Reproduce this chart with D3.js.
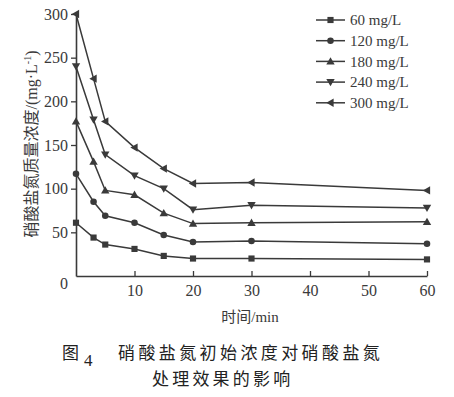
<!DOCTYPE html>
<html>
<head>
<meta charset="utf-8">
<script src="https://cdn.jsdelivr.net/npm/d3@7"></script>
<style>
  body { margin: 0; background: #fff; }
  svg { display: block; }
</style>
</head>
<body>
<svg id="chart" width="454" height="397"></svg>
<script>
// time points (min)
const times = [0, 3, 5, 10, 15, 20, 30, 60];
const seriesNames = ["60 mg/L", "120 mg/L", "180 mg/L", "240 mg/L", "300 mg/L"];
const c60 = [61, 44, 36, 31, 23, 20, 20, 19];
const c120 = [117, 85, 69, 61, 47, 39, 40, 37];
const c180 = [177, 131, 98, 93, 72, 60, 61, 62];
const c240 = [240, 179, 139, 115, 100, 76, 81, 78];
const c300 = [300, 226, 177, 147, 123, 106, 107, 98];
const xTicks = [10, 20, 30, 40, 50, 60];
const yTicks = [50, 100, 150, 200, 250, 300];

const allSeries = [c60, c120, c180, c240, c300];
const symbols = [d3.symbolSquare, d3.symbolCircle, "up", "down", "left"];

const ink = "#3a3a3a";
const serif = "'Liberation Serif', 'DejaVu Serif', serif";
const cjk = "'Noto Sans CJK SC', sans-serif";

const svg = d3.select('#chart');
const x = d3.scaleLinear().domain([0, 60]).range([76, 427]);
const y = d3.scaleLinear().domain([0, 300]).range([276, 14]);

// axes
const xAxis = svg.append('g')
  .attr('transform', `translate(0,${y(0)})`)
  .call(d3.axisBottom(x).tickValues(xTicks).tickSizeInner(-5).tickSizeOuter(0).tickPadding(9));
const yAxis = svg.append('g')
  .attr('transform', `translate(${x(0)},0)`)
  .call(d3.axisLeft(y).tickValues(yTicks).tickSizeInner(5).tickSizeOuter(0).tickPadding(3));

[xAxis, yAxis].forEach(g => {
  g.select('.domain').attr('stroke', ink).attr('stroke-width', 1.6);
  g.selectAll('.tick line').attr('stroke', ink).attr('stroke-width', 1.3);
  g.selectAll('.tick text').attr('fill', ink).style('font-family', serif).style('font-size', '16px');
});

// shared origin label
svg.append('text')
  .attr('x', 64).attr('y', 283).attr('dy', '0.35em')
  .attr('text-anchor', 'middle')
  .attr('fill', ink).style('font-family', serif).style('font-size', '16px')
  .text('0');

function drawMarker(g, kind, cx, cy) {
  if (kind === "up" || kind === "down" || kind === "left") {
    const s = 4.2;
    let pts;
    if (kind === "up") pts = [[cx, cy - s], [cx + s, cy + s * 0.75], [cx - s, cy + s * 0.75]];
    else if (kind === "down") pts = [[cx, cy + s], [cx + s, cy - s * 0.75], [cx - s, cy - s * 0.75]];
    else pts = [[cx - s, cy], [cx + s * 0.75, cy - s], [cx + s * 0.75, cy + s]];
    g.append('polygon').attr('points', pts.map(p => p.join(',')).join(' ')).attr('fill', ink);
  } else {
    const size = kind === d3.symbolSquare ? 38 : 34;
    g.append('path')
      .attr('d', d3.symbol().type(kind).size(size)())
      .attr('transform', `translate(${cx},${cy})`)
      .attr('fill', ink);
  }
}

const line = d3.line().x((d, i) => x(times[i])).y(d => y(d));

allSeries.forEach((vals, k) => {
  const g = svg.append('g');
  g.append('path').datum(vals)
    .attr('d', line)
    .attr('fill', 'none')
    .attr('stroke', ink)
    .attr('stroke-width', 1.5);
  vals.forEach((v, i) => drawMarker(g, symbols[k], x(times[i]), y(v)));
});

// legend
const legend = svg.append('g');
seriesNames.forEach((name, k) => {
  const ly = 20 + k * 20.7;
  legend.append('line')
    .attr('x1', 316).attr('x2', 345).attr('y1', ly).attr('y2', ly)
    .attr('stroke', ink).attr('stroke-width', 1.5);
  drawMarker(legend, symbols[k], 330.5, ly);
  legend.append('text')
    .attr('x', 350).attr('y', ly).attr('dy', '0.35em')
    .attr('fill', ink).style('font-family', serif).style('font-size', '15px')
    .text(name);
});

// axis titles
const yt = svg.append('text')
  .attr('transform', 'translate(31,144) rotate(-90)')
  .attr('text-anchor', 'middle').attr('dy', '0.35em')
  .attr('fill', ink).style('font-size', '16px');
yt.append('tspan').style('font-family', cjk).text('硝酸盐氮质量浓度');
yt.append('tspan').style('font-family', serif).text('/(mg·L');
yt.append('tspan').style('font-family', serif).style('font-size', '10px').attr('dy', '-6').text('-1');
yt.append('tspan').style('font-family', serif).attr('dy', '6').text(')');

const xt = svg.append('text')
  .attr('x', 250).attr('y', 317).attr('dy', '0.35em')
  .attr('text-anchor', 'middle')
  .attr('fill', ink).style('font-size', '15px');
xt.append('tspan').style('font-family', cjk).text('时间');
xt.append('tspan').style('font-family', serif).text('/min');

// caption
svg.append('text')
  .attr('x', 62).attr('y', 353).attr('dy', '0.35em')
  .attr('fill', '#222').style('font-family', cjk).style('font-size', '17px')
  .text('图');
svg.append('text')
  .attr('x', 84).attr('y', 360).attr('dy', '0.35em')
  .attr('fill', '#222').style('font-family', serif).style('font-size', '17px')
  .text('4');
svg.append('text')
  .attr('x', 118).attr('y', 353).attr('dy', '0.35em')
  .attr('fill', '#222').style('font-family', cjk).style('font-size', '17px')
  .style('letter-spacing', '3.4px')
  .text('硝酸盐氮初始浓度对硝酸盐氮');
svg.append('text')
  .attr('x', 152).attr('y', 379).attr('dy', '0.35em')
  .attr('fill', '#222').style('font-family', cjk).style('font-size', '17px')
  .style('letter-spacing', '3.2px')
  .text('处理效果的影响');
</script>
</body>
</html>
